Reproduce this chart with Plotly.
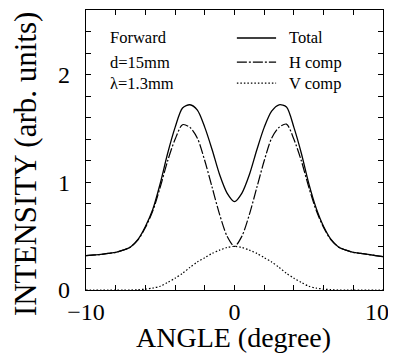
import plotly.graph_objects as go

# ---- data ----
angle = [-10, -9.5, -9, -8.5, -8, -7.5, -7, -6.5, -6, -5.5, -5, -4.5, -4, -3.5, -3, -2.5, -2, -1.5, -1, -0.5,
         0, 0.5, 1, 1.5, 2, 2.5, 3, 3.5, 4, 4.5, 5, 5.5, 6, 6.5, 7, 7.5, 8, 8.5, 9, 9.5, 10]
total = [0.32, 0.325, 0.33, 0.34, 0.35, 0.37, 0.40, 0.47, 0.59, 0.75, 0.99, 1.27, 1.51, 1.69, 1.72, 1.67, 1.51, 1.30, 1.07, 0.90,
         0.82, 0.90, 1.07, 1.30, 1.51, 1.66, 1.72, 1.70, 1.51, 1.27, 0.99, 0.76, 0.59, 0.47, 0.40, 0.37, 0.35, 0.34, 0.33, 0.32, 0.31]
h_comp = [0.32, 0.325, 0.33, 0.34, 0.35, 0.37, 0.40, 0.465, 0.58, 0.735, 0.955, 1.20, 1.40, 1.535, 1.51, 1.41, 1.20, 0.95, 0.70, 0.50,
          0.405, 0.50, 0.70, 0.95, 1.20, 1.41, 1.51, 1.54, 1.40, 1.20, 0.955, 0.74, 0.58, 0.465, 0.40, 0.37, 0.35, 0.34, 0.33, 0.32, 0.31]
v_comp = [0, 0, 0, 0, 0, 0, 0, 0.003, 0.008, 0.018, 0.035, 0.07, 0.11, 0.155, 0.21, 0.26, 0.30, 0.34, 0.37, 0.395,
          0.405, 0.395, 0.37, 0.34, 0.30, 0.26, 0.21, 0.155, 0.11, 0.07, 0.035, 0.018, 0.008, 0.003, 0, 0, 0, 0, 0, 0, 0]

x_ticks = [-10, -8, -6, -4, -2, 0, 2, 4, 6, 8, 10]
x_tick_text = ["\u221210", "", "", "", "", "0", "", "", "", "", "10\u2002"]
y_ticks = [0, 0.2, 0.4, 0.6, 0.8, 1.0, 1.2, 1.4, 1.6, 1.8, 2.0, 2.2, 2.4]
y_tick_text = ["0", "", "", "", "", "1", "", "", "", "", "2", "", ""]

series_names = ["Total", "H comp", "V comp"]
info_lines = ["Forward", "d=15mm", "\u03bb=1.3mm"]
x_title = "ANGLE (degree)"
y_title = "INTENSITY (arb. units)"

FONT = "Liberation Serif, Times New Roman, serif"
dashes = ["solid", "10px,2px,2px,2px", "1.5px,2px"]
widths = [1.3, 1.2, 1.2]

fig = go.Figure()
for name, ys, d, w in zip(series_names, [total, h_comp, v_comp], dashes, widths):
    fig.add_trace(go.Scatter(x=angle, y=ys, mode="lines", name=name,
                             line=dict(color="black", width=w, dash=d, shape="spline", smoothing=0.8),
                             showlegend=False))

axis_common = dict(showline=True, linecolor="black", linewidth=1.3, mirror="allticks",
                   ticks="inside", ticklen=5, tickwidth=1, tickcolor="black",
                   showgrid=False, zeroline=False, automargin=False,
                   tickfont=dict(family=FONT, size=24, color="black"))

fig.update_xaxes(range=[-10, 10], tickmode="array", tickvals=x_ticks, ticktext=x_tick_text,
                 ticklabeloverflow="allow", **axis_common)
fig.update_yaxes(range=[0, 2.6], tickmode="array", tickvals=y_ticks, ticktext=y_tick_text,
                 ticklabelstandoff=10, **axis_common)

annotations = []
# info text (top-left)
for i, t in enumerate(info_lines):
    annotations.append(dict(xref="paper", yref="paper", x=0.074, y=[0.9, 0.814, 0.739][i],
                            text=t, showarrow=False, xanchor="left", yanchor="middle",
                            font=dict(family=FONT, size=16.5, color="black")))
# manual legend
shapes = []
for i, name in enumerate(series_names):
    yy = [0.9, 0.814, 0.739][i]
    shapes.append(dict(type="line", xref="paper", yref="paper", x0=0.508, x1=0.640, y0=yy, y1=yy,
                       line=dict(color="black", width=widths[i], dash=dashes[i])))
    annotations.append(dict(xref="paper", yref="paper", x=0.677, y=yy, text=name, showarrow=False,
                            xanchor="left", yanchor="middle",
                            font=dict(family=FONT, size=16.5, color="black")))
# axis titles
annotations.append(dict(xref="paper", yref="paper", x=0.495, y=-0.168, text=x_title, showarrow=False,
                        xanchor="center", yanchor="middle", font=dict(family=FONT, size=28, color="black")))
annotations.append(dict(xref="paper", yref="paper", x=-0.205, y=0.45, text=y_title, showarrow=False,
                        textangle=-90, xanchor="center", yanchor="middle",
                        font=dict(family=FONT, size=31, color="black")))

# the page body has an 8px default margin, so the figure is sized to end at the window edge
fig.update_layout(width=388, height=348, margin=dict(l=78, r=13, t=2, b=66),
                  paper_bgcolor="white", plot_bgcolor="white",
                  annotations=annotations, shapes=shapes, showlegend=False)

fig.write_html("out.html")
